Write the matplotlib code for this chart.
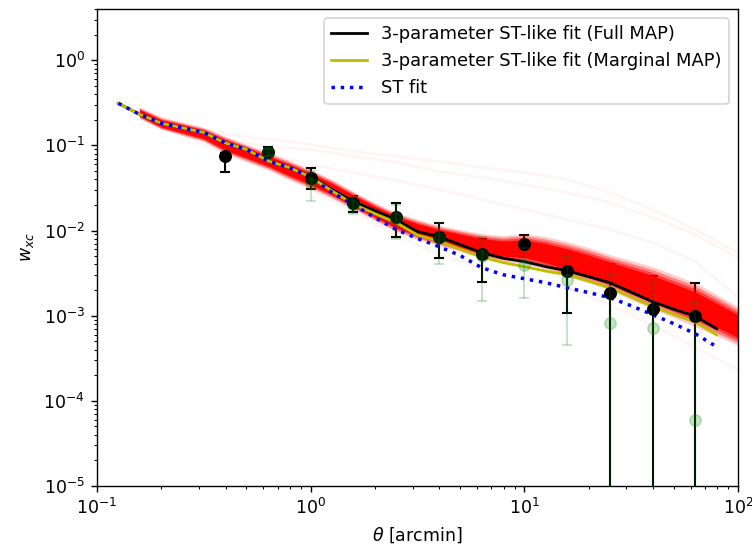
import numpy as np
import matplotlib
matplotlib.use("Agg")
import matplotlib.pyplot as plt

# ---------------- data ----------------
theta_obs = [0.398, 0.631, 1.0, 1.585, 2.512, 3.981, 6.310, 10.0, 15.85, 25.12, 39.81, 63.10]
w_obs = [0.0743, 0.0828, 0.0409, 0.0213, 0.0146, 0.0085, 0.00536, 0.00703, 0.00338, 0.00187, 0.00121, 0.0010]
err_lo = [0.026, 0.007, 0.0105, 0.005, 0.0063, 0.0037, 0.0029, 0.0021, 0.0023, 0.0022, 0.0017, 0.0014]
err_hi = [0.008, 0.014, 0.0127, 0.0045, 0.0062, 0.0039, 0.0027, 0.0019, 0.0021, 0.0022, 0.0017, 0.0014]

theta_g = [0.631, 1.0, 1.585, 2.512, 3.981, 6.310, 10.0, 15.85, 25.12, 39.81, 63.10]
w_g = [0.0828, 0.036, 0.020, 0.014, 0.0082, 0.005, 0.0039, 0.00265, 0.00083, 0.00072, 0.00006]
err_g = [0.008, 0.014, 0.0045, 0.006, 0.0041, 0.0035, 0.0023, 0.0022, 0.0022, 0.0017, 0.0014]

theta_model = [0.126, 0.158, 0.200, 0.251, 0.316, 0.398, 0.501, 0.631, 0.794, 1.0,
               1.259, 1.585, 1.995, 2.512, 3.162, 3.981, 5.012, 6.310, 7.943, 10.0,
               12.59, 15.85, 19.95, 25.12, 31.62, 39.81, 50.12, 63.10, 79.43]
full_map = [0.312, 0.232, 0.182, 0.161, 0.142, 0.107, 0.0897, 0.0658, 0.0551, 0.0432,
            0.0303, 0.0219, 0.0172, 0.01346, 0.00973, 0.00849, 0.00684, 0.00551, 0.00474, 0.00432,
            0.00377, 0.00338, 0.00288, 0.00244, 0.00189, 0.00146, 0.00119, 0.000986, 0.000703]
marg_map = [0.312, 0.232, 0.182, 0.161, 0.142, 0.107, 0.0897, 0.0658, 0.0551, 0.0426,
            0.0292, 0.0205, 0.0158, 0.0124, 0.00885, 0.00752, 0.00605, 0.00488, 0.00421, 0.00377,
            0.00334, 0.00303, 0.00255, 0.00213, 0.00165, 0.00128, 0.00103, 0.00084, 0.000597]
st_fit = [0.312, 0.232, 0.182, 0.161, 0.142, 0.107, 0.0897, 0.0658, 0.0551, 0.0421,
          0.0280, 0.0202, 0.0142, 0.0103, 0.00805, 0.00649, 0.00508, 0.00367, 0.00303, 0.00272,
          0.00244, 0.00213, 0.00187, 0.00163, 0.00131, 0.00103, 0.000805, 0.000614, 0.000432]

theta_band = [0.158, 0.200, 0.251, 0.316, 0.398, 0.501, 0.631, 0.794, 1.0, 1.259,
              1.585, 1.995, 2.512, 3.162, 3.981, 5.012, 6.310, 7.943, 10.0, 12.59,
              15.85, 19.95, 25.12, 31.62, 39.81, 50.12, 63.10, 79.43, 100.0]
band_hi = [0.280, 0.213, 0.187, 0.163, 0.128, 0.103, 0.0828, 0.0667, 0.0522, 0.0398,
           0.0288, 0.0213, 0.0163, 0.0135, 0.0115, 0.0103, 0.00923, 0.00873, 0.00923, 0.00849,
           0.00743, 0.00631, 0.00522, 0.00444, 0.00377, 0.00303, 0.00244, 0.00177, 0.00128]
band_lo = [0.208, 0.154, 0.131, 0.111, 0.0805, 0.0649, 0.0522, 0.0398, 0.0312, 0.0238,
           0.0177, 0.0131, 0.00973, 0.00783, 0.00667, 0.00566, 0.00481, 0.00432, 0.00409, 0.00348,
           0.00288, 0.00244, 0.00202, 0.00154, 0.00121, 0.000946, 0.000743, 0.000582, 0.000444]

theta_faint = [0.158, 0.251, 0.398, 0.631, 1.0, 1.585, 2.512, 3.981, 6.310, 10.0,
               15.85, 25.12, 39.81, 63.10, 100.0]
faint_a = [0.265, 0.177, 0.135, 0.118, 0.103, 0.0851, 0.0743, 0.0649, 0.0551, 0.0481,
           0.0398, 0.0280, 0.0177, 0.0103, 0.00551]
faint_b = [0.265, 0.172, 0.118, 0.0973, 0.0897, 0.0743, 0.0631, 0.0494, 0.0421, 0.0348,
           0.0280, 0.0213, 0.0142, 0.00897, 0.00481]
faint_c = [0.251, 0.163, 0.111, 0.0783, 0.0597, 0.0481, 0.0388, 0.0303, 0.0232, 0.0177,
           0.0135, 0.0103, 0.00723, 0.00432, 0.00167]
faint_d = [0.232, 0.135, 0.0783, 0.0522, 0.0303, 0.0167, 0.00873, 0.00522, 0.00367, 0.00296,
           0.00213, 0.00135, 0.000783, 0.000421, 0.000232]

# ---------------- plot ----------------
fig = plt.figure(figsize=(752 / 125, 548 / 125), dpi=125)
ax = fig.add_axes([97 / 752, 62 / 548, 641 / 752, 477 / 548])

# faint posterior draws
for fc in (faint_a, faint_b, faint_c, faint_d):
    ax.plot(theta_faint, fc, color="red", alpha=0.045, lw=1.5, zorder=2)

# dense posterior band, soft edges
lo = np.array(band_lo)
hi = np.array(band_hi)
for f, a in zip([0.0, 0.07, 0.14, 0.21], [0.2, 0.35, 0.5, 0.95]):
    l = lo ** (1 - f) * hi ** f
    h = hi ** (1 - f) * lo ** f
    ax.fill_between(theta_band, l, h, color="red", alpha=a, lw=0, zorder=2)

# black data error bars (under band)
ax.errorbar(theta_obs, w_obs, yerr=[err_lo, err_hi], fmt="none", ecolor="black",
            capsize=3, elinewidth=1.2, capthick=1.2, zorder=1)

ax.plot(theta_model, full_map, color="black", lw=1.6, zorder=3,
        label="3-parameter ST-like fit (Full MAP)")
ax.plot(theta_model, marg_map, color="y", lw=1.6, zorder=3.1,
        label="3-parameter ST-like fit (Marginal MAP)")
ax.plot(theta_model, st_fit, color="blue", lw=2, ls=":", zorder=3.2,
        label="ST fit")

ax.plot(theta_obs, w_obs, "o", color="black", ms=6.5, zorder=4)

ax.errorbar(theta_g, w_g, yerr=err_g, fmt="o", color="green", ms=6.5, alpha=0.22,
            capsize=3, elinewidth=1.2, capthick=1.2, zorder=5)

ax.set_xscale("log")
ax.set_yscale("log")
ax.set_xlim(0.1, 100)
ax.set_ylim(1e-5, 4.0)
ax.set_xlabel(r"$\theta$ [arcmin]")
ax.set_ylabel(r"$w_{xc}$")
ax.legend(loc="upper right", fontsize=10.3)

fig.savefig("out.png", dpi=125)
